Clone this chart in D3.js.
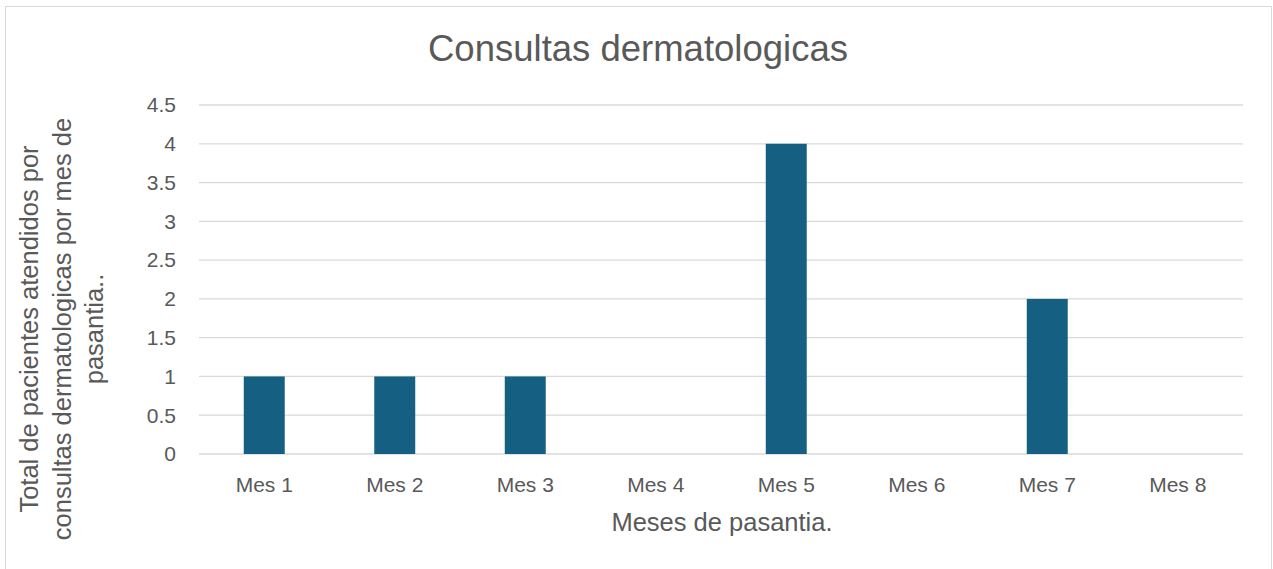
<!DOCTYPE html>
<html>
<head>
<meta charset="utf-8">
<script src="https://cdn.jsdelivr.net/npm/d3@7"></script>
<style>
  body { margin: 0; background: #fff; }
  text { font-family: "Liberation Sans", Arial, sans-serif; fill: #595959; }
</style>
</head>
<body>
<svg id="chart" width="1273" height="569"></svg>
<script>
const months = ['Mes 1', 'Mes 2', 'Mes 3', 'Mes 4', 'Mes 5', 'Mes 6', 'Mes 7', 'Mes 8']
const patients = [1, 1, 1, 0, 4, 0, 2, 0]
const yTicks = [0, 0.5, 1, 1.5, 2, 2.5, 3, 3.5, 4, 4.5]
const yTitleLines = ['Total de pacientes atendidos por', 'consultas dermatologicas por mes de', 'pasantia..']

const svg = d3.select('#chart')

// chart frame
svg.append('rect')
  .attr('x', 5.5).attr('y', 6.5)
  .attr('width', 1266).attr('height', 570)
  .attr('fill', 'none').attr('stroke', '#d9d9d9')

const plotLeft = 199, plotRight = 1243, plotTop = 105, plotBottom = 454

const x = d3.scaleBand().domain(months).range([plotLeft, plotRight]).paddingInner(0.686).paddingOuter(0.343)
const y = d3.scaleLinear().domain([0, 4.5]).range([plotBottom, plotTop])

// gridlines
svg.append('g')
  .selectAll('line')
  .data(yTicks)
  .join('line')
  .attr('x1', plotLeft).attr('x2', plotRight)
  .attr('y1', d => y(d)).attr('y2', d => y(d))
  .attr('stroke', '#d9d9d9').attr('stroke-width', 1.3)

// y tick labels
svg.append('g')
  .selectAll('text')
  .data(yTicks)
  .join('text')
  .attr('x', 176)
  .attr('y', d => y(d))
  .attr('dy', '0.35em')
  .attr('text-anchor', 'end')
  .attr('font-size', 21)
  .text(d => d)

// bars
svg.append('g')
  .selectAll('rect')
  .data(patients)
  .join('rect')
  .attr('x', (d, i) => x(months[i]))
  .attr('width', x.bandwidth())
  .attr('y', d => y(d))
  .attr('height', d => y(0) - y(d))
  .attr('fill', '#156082')

// x tick labels
svg.append('g')
  .selectAll('text')
  .data(months)
  .join('text')
  .attr('x', d => x(d) + x.bandwidth() / 2)
  .attr('y', 485)
  .attr('dy', '0.35em')
  .attr('text-anchor', 'middle')
  .attr('font-size', 21)
  .text(d => d)

// title
svg.append('text')
  .attr('x', 638).attr('y', 48)
  .attr('dy', '0.35em')
  .attr('text-anchor', 'middle')
  .attr('font-size', 36.5)
  .text('Consultas dermatologicas')

// x axis title
svg.append('text')
  .attr('x', 722).attr('y', 522)
  .attr('dy', '0.35em')
  .attr('text-anchor', 'middle')
  .attr('font-size', 25.5)
  .text('Meses de pasantia.')

// y axis title
svg.append('text')
  .attr('transform', 'translate(62,329) rotate(-90)')
  .attr('text-anchor', 'middle')
  .attr('font-size', 25.5)
  .selectAll('tspan')
  .data(yTitleLines)
  .join('tspan')
  .attr('x', 0)
  .attr('y', (d, i) => (i - 1) * 32.5)
  .attr('dy', '0.35em')
  .text(d => d)
</script>
</body>
</html>
